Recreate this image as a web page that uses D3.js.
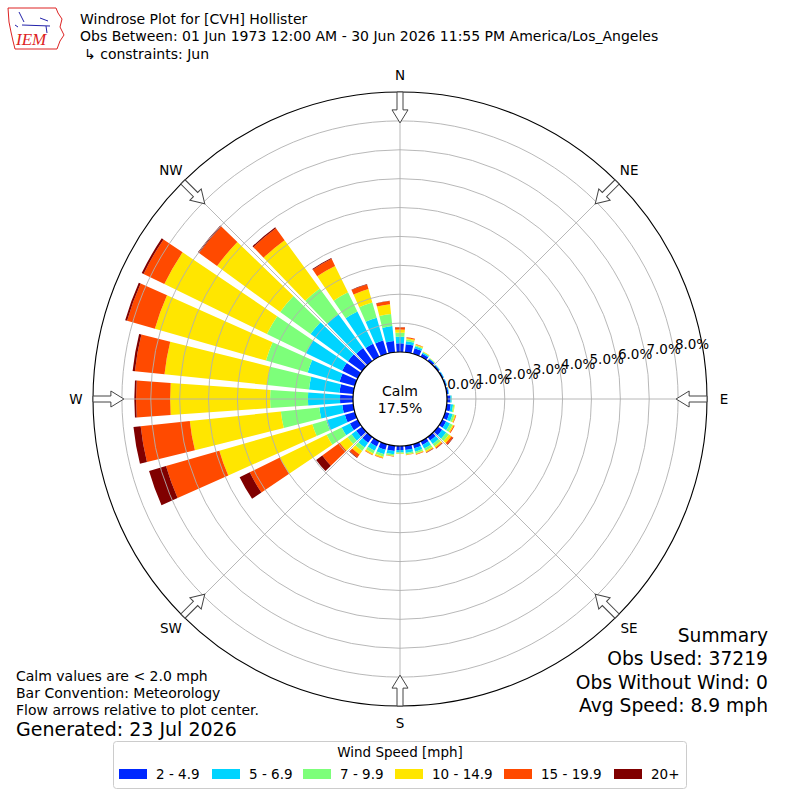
<!DOCTYPE html>
<html><head><meta charset="utf-8">
<script src="https://cdn.jsdelivr.net/npm/d3@7"></script>
<style>
body{margin:0;background:#fff}
svg{display:block;font-family:"DejaVu Sans",sans-serif}
</style>
</head><body>
<svg id="c" width="800" height="800"></svg>
<script>
// ---------- data ----------
const directions = [0,10,20,30,40,50,60,70,80,90,100,110,120,130,140,150,160,170,180,190,200,210,220,230,240,250,260,270,280,290,300,310,320,330,340,350];
const speedBins = ["2 - 4.9","5 - 6.9","7 - 9.9","10 - 14.9","15 - 19.9","20+"];
const binColors = ["#0028ff","#00d4ff","#7dff7a","#ffe600","#ff4a00","#800000"];
const speed2to5   = [.30,.28,.20,.12,.08,.06,.05,.05,.06,.12,.14,.15,.15,.18,.15,.14,.15,.15,.14,.18,.20,.20,.25,.25,.30,.36,.38,.45,.48,.55,.60,.60,.55,.50,.48,.39];
const speed5to7   = [.23,.10,.07,.04,.03,.02,.02,.02,.02,.04,.08,.12,.15,.17,.15,.14,.12,.10,.08,.12,.16,.17,.20,.20,.32,.67,.80,1.11,1.06,1.15,1.40,1.60,1.45,1.24,.82,.52];
const speed7to10  = [.14,.06,.04,.02,.01,.01,0,0,0,.01,.04,.07,.10,.12,.10,.09,.06,.05,.04,.05,.09,.10,.15,.17,.58,.50,1.34,1.31,1.46,1.50,1.50,1.30,1.10,.74,.55,.42];
const speed10to15 = [.11,.05,.03,.02,.01,0,0,0,0,0,.02,.04,.05,.10,.06,.05,.03,.02,.02,.02,.05,.05,.15,.33,1.80,3.35,3.17,3.46,3.57,4.00,3.95,2.70,2.07,1.02,.48,.34];
const speed15to20 = [.07,.03,.01,0,0,0,0,0,0,0,0,.02,.03,.07,.03,.02,.02,.01,0,.01,.02,.02,.13,.75,1.16,1.92,1.71,1.18,1.03,1.00,.80,.77,.51,.27,.17,.11];
const speed20plus = [.01,0,0,0,0,0,0,0,0,0,0,0,0,.02,.01,.01,0,0,0,0,0,0,.02,.26,.39,.61,.25,.06,.08,.07,.07,.05,.04,.03,.01,.01];
const calmPct = 17.5;
const ringTicks = [0,1,2,3,4,5,6,7,8];
const compassLabels = ["N","NE","E","SE","S","SW","W","NW"];
const compassAngles = [0,45,90,135,180,225,270,315];
const titleLines = ["Windrose Plot for [CVH] Hollister","Obs Between: 01 Jun 1973 12:00 AM - 30 Jun 2026 11:55 PM America/Los_Angeles","\u21B3 constraints: Jun"];
const noteLines = ["Calm values are < 2.0 mph","Bar Convention: Meteorology","Flow arrows relative to plot center."];
const generatedText = "Generated: 23 Jul 2026";
const summaryLines = ["Summary","Obs Used: 37219","Obs Without Wind: 0","Avg Speed: 8.9 mph"];

const series = [speed2to5, speed5to7, speed7to10, speed10to15, speed15to20, speed20plus];

// ---------- layout ----------
const cx = 400, cy = 399;
const r = d3.scaleLinear().domain([0, 9]).range([47, 307]);
const rad = Math.PI / 180;
const svg = d3.select("#c");
const g = svg.append("g").attr("transform", `translate(${cx},${cy})`);

// stacked segments
const segs = [];
directions.forEach((d, i) => {
  let base = 0;
  series.forEach((s, j) => {
    const v = s[i];
    if (v > 0) segs.push({dir: d, bin: j, y0: base, y1: base + v});
    base += v;
  });
});
const arc = d3.arc()
  .innerRadius(d => r(d.y0)).outerRadius(d => r(d.y1))
  .startAngle(d => (d.dir - 4) * rad).endAngle(d => (d.dir + 4) * rad);
g.selectAll("path.bar").data(segs).join("path").attr("class","bar")
  .attr("d", arc).attr("fill", d => binColors[d.bin]);

// grid
g.selectAll("circle.ring").data(ringTicks.filter(t => t > 0)).join("circle").attr("class","ring")
  .attr("r", d => r(d)).attr("fill","none").attr("stroke","#b0b0b0").attr("stroke-width",0.9);
g.selectAll("line.spoke").data(compassAngles).join("line").attr("class","spoke")
  .attr("x1",0).attr("y1",0)
  .attr("x2", a => r(9) * Math.sin(a * rad)).attr("y2", a => -r(9) * Math.cos(a * rad))
  .attr("stroke","#b0b0b0").attr("stroke-width",0.9);

// calm circle
g.append("circle").attr("r", r(0)).attr("fill","#fff").attr("stroke","#000").attr("stroke-width",1.2);
g.append("text").attr("x",0).attr("y",-8).attr("text-anchor","middle").attr("dominant-baseline","central")
  .attr("font-size",14).text("Calm");
g.append("text").attr("x",0).attr("y",9).attr("text-anchor","middle").attr("dominant-baseline","central")
  .attr("font-size",14).text(calmPct.toFixed(1) + "%");

// outer circle
g.append("circle").attr("r", r(9)).attr("fill","none").attr("stroke","#000").attr("stroke-width",1.1);

// arrows
const rOut = r(9), rTip = r(8) - 2, rHead = rTip + 13;
const arrowPath = `M-3,${-rOut} L3,${-rOut} L3,${-rHead} L8,${-rHead} L0,${-rTip} L-8,${-rHead} L-3,${-rHead} Z`;
g.selectAll("path.arrow").data(compassAngles).join("path").attr("class","arrow")
  .attr("d", arrowPath).attr("transform", a => `rotate(${a})`)
  .attr("fill","#fff").attr("stroke","#444").attr("stroke-width",1);

// compass labels
g.selectAll("text.comp").data(compassAngles).join("text").attr("class","comp")
  .attr("x", a => (r(9) + 17) * Math.sin(a * rad)).attr("y", a => -(r(9) + 17) * Math.cos(a * rad))
  .attr("text-anchor","middle").attr("dominant-baseline","central").attr("font-size",13.5)
  .text((a, i) => compassLabels[i]);

// ring labels
const labAng = 80;
g.selectAll("text.rl").data(ringTicks).join("text").attr("class","rl")
  .attr("x", t => r(t) * Math.sin(labAng * rad) + 1)
  .attr("y", t => -r(t) * Math.cos(labAng * rad) - 7)
  .attr("dominant-baseline","central").attr("font-size",13.5)
  .text(t => t.toFixed(1) + "%");

// titles
svg.selectAll("text.title").data(titleLines).join("text").attr("class","title")
  .attr("x", (d, i) => i === 2 ? 84 : 80).attr("y", (d, i) => 24 + i * 17.3)
  .attr("font-size",14).text(d => d);

// notes
svg.selectAll("text.note").data(noteLines).join("text").attr("class","note")
  .attr("x",16).attr("y",(d, i) => 681 + i * 17).attr("font-size",14).text(d => d);
svg.append("text").attr("x",16).attr("y",736).attr("font-size",19).text(generatedText);

// summary
svg.selectAll("text.sum").data(summaryLines).join("text").attr("class","sum")
  .attr("x",768).attr("y",(d, i) => 642 + i * 23.4).attr("text-anchor","end").attr("font-size",18.7).text(d => d);

// legend
const lg = svg.append("g");
lg.append("rect").attr("x",113.5).attr("y",741.5).attr("width",573).attr("height",47).attr("rx",3)
  .attr("fill","#fff").attr("stroke","#ccc").attr("stroke-width",1);
lg.append("text").attr("x",400).attr("y",757).attr("text-anchor","middle").attr("font-size",13.5).text("Wind Speed [mph]");
const itemX = d3.scalePoint().domain(speedBins).range([0, 1]);
const legendStarts = [119, 212, 303, 395, 504, 614];
const items = lg.selectAll("g.item").data(speedBins).join("g").attr("class","item")
  .attr("transform", (d, i) => `translate(${legendStarts[i]},769)`);
items.append("rect").attr("width",28).attr("height",10).attr("fill",(d, i) => binColors[i]);
items.append("text").attr("x",37).attr("y",10).attr("font-size",13.5).text(d => d);

// IEM logo (simplified)
const logo = svg.append("g");
logo.append("path").attr("d","M8,8 L56,8 L58,13 L62,19 L60,27 L64,35 L60,41 L57,49 L15,49 L13,41 L11,32 L9,22 Z")
  .attr("fill","#fff").attr("stroke","#d22","stroke-width",1);
logo.append("path").attr("d","M19,12 L24,22 M22,25 L50,26 M40,18 L48,21 M46,26 L47,33 M15,25 L18,27")
  .attr("fill","none").attr("stroke","#22a","stroke-width",2.2);
logo.append("text").attr("x",16).attr("y",45).attr("font-family","Liberation Serif, serif").attr("font-style","italic")
  .attr("font-size",17).attr("fill","#d22").text("IEM");
</script>
</body></html>
